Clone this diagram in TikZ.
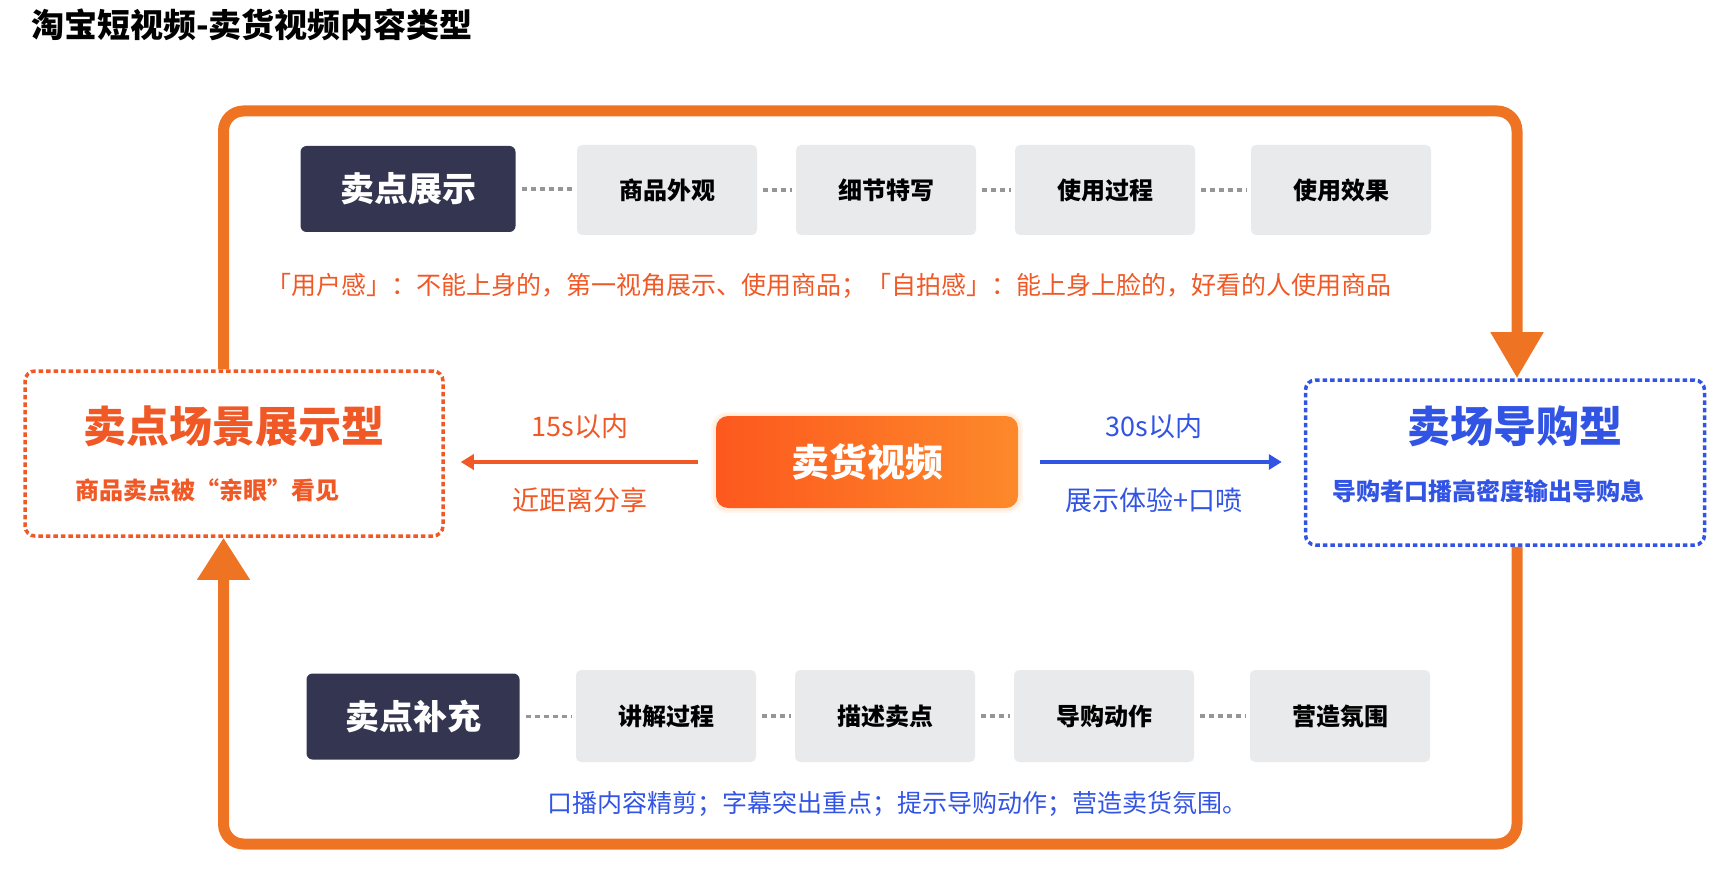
\documentclass[tikz,border=0pt]{standalone}
\usepackage{fontspec}
\setmainfont{Noto Sans CJK SC}
\usetikzlibrary{arrows.meta}
\definecolor{loopOrange}{RGB}{238,116,36}
\definecolor{textOrange}{RGB}{240,88,38}
\definecolor{guideBlue}{RGB}{50,84,228}
\definecolor{navyBox}{RGB}{51,53,81}
\definecolor{greyBox}{RGB}{233,234,236}
\definecolor{dotGrey}{RGB}{150,150,150}
\definecolor{videoLeft}{RGB}{253,88,30}
\definecolor{videoRight}{RGB}{253,137,42}
\def\fs#1{\fontsize{#1}{#1}\selectfont}
\tikzset{
	navybox/.style={fill=navyBox, rounded corners=6pt, text=white, font=\bfseries\fs{34}, minimum height=86pt},
	greybox/.style={fill=greyBox, rounded corners=5pt, font=\bfseries\fs{24}, minimum width=180pt, minimum height=90pt},
	linkdots/.style={draw=dotGrey, line width=3.5pt, dash pattern=on 5pt off 4pt, shorten <=6pt, shorten >=4pt},
	typebox/.style={rounded corners=10pt, line width=3.5pt, dash pattern=on 4.5pt off 3pt},
	plain/.style={inner sep=0pt},
	loopline/.style={draw=loopOrange, line width=11pt, rounded corners=20pt},
}

\begin{document}
\begin{tikzpicture}[x=1pt,y=-1pt]
			%%%%% START %%%%%
			\useasboundingbox (0,0) rectangle (1726,874);
			
			\node[plain, anchor=west, font=\bfseries\fs{33}] (title) at (31,25) {淘宝短视频-卖货视频内容类型};
			
			% two kinds of selling video
			\node[typebox, draw=textOrange, minimum width=418pt, minimum height=165pt] (lead) at (234,453.5) {};
			\node[plain, text=textOrange, font=\bfseries\fs{43}] (leadTitle) at (234,426) {卖点场景展示型};
			\node[plain, text=textOrange, font=\bfseries\fs{24}] (leadNote) at (207,490) {商品卖点被“亲眼”看见};
			
			\node[typebox, draw=guideBlue, minimum width=399pt, minimum height=165pt] (guide) at (1505,462.5) {};
			\node[plain, text=guideBlue, font=\bfseries\fs{43}] (guideTitle) at (1515,426) {卖场导购型};
			\node[plain, text=guideBlue, font=\bfseries\fs{24}] (guideNote) at (1488,491) {导购者口播高密度输出导购息};
			
			% soft glow under the middle box
			\fill[videoRight, opacity=0.08, rounded corners=16pt] (711,412) rectangle (1023,513);
			\fill[videoRight, opacity=0.08, rounded corners=14pt] (713,414) rectangle (1021,511);
			\node[rounded corners=12pt, left color=videoLeft, right color=videoRight, text=white, font=\bfseries\fs{38}, minimum width=302pt, minimum height=92pt] (video) at (867,462) {卖货视频};
			
			% arrows out of the middle
			\draw[draw=textOrange, line width=3.5pt, -{Triangle[width=15pt,length=13pt]}, shorten <=18pt, shorten >=16pt] (video.west) -- (video.west -| lead.east);
			\node[plain, text=textOrange, font=\fs{27}] (shortTop) at (580,426) {15s以内};
			\node[plain, text=textOrange, font=\fs{27}] (shortBottom) at (580,500) {近距离分享};
			
			\draw[draw=guideBlue, line width=3.5pt, -{Triangle[width=15pt,length=13pt]}, shorten <=22pt, shorten >=22pt] (video.east) -- (video.east -| guide.west);
			\node[plain, text=guideBlue, font=\fs{27}] (longTop) at (1154,426) {30s以内};
			\node[plain, text=guideBlue, font=\fs{27}] (longBottom) at (1154,500) {展示体验+口喷};
			
			% top row
			\node[navybox, minimum width=215pt] (showHead) at (408,189) {卖点展示};
			\node[greybox] (showA) at (667,190) {商品外观};
			\node[greybox] (showB) at (886,190) {细节特写};
			\node[greybox] (showC) at (1105,190) {使用过程};
			\node[greybox] (showD) at (1341,190) {使用效果};
			\draw[linkdots] (showHead.east) -- (showHead.east -| showA.west);
			\draw[linkdots] (showA) -- (showB);
			\draw[linkdots] (showB) -- (showC);
			\draw[linkdots] (showC) -- (showD);
			\node[plain, text=textOrange, font=\fs{25}] (showNote) at (829,286) {「用户感」：不能上身的，第一视角展示、使用商品；「自拍感」：能上身上脸的，好看的人使用商品};
			
			% bottom row
			\node[navybox, minimum width=213pt] (addHead) at (413,716.5) {卖点补充};
			\node[greybox, minimum height=92pt] (addA) at (666,716) {讲解过程};
			\node[greybox, minimum height=92pt] (addB) at (885,716) {描述卖点};
			\node[greybox, minimum height=92pt] (addC) at (1104,716) {导购动作};
			\node[greybox, minimum height=92pt] (addD) at (1340,716) {营造氛围};
			\draw[linkdots] (addHead.east) -- (addHead.east -| addA.west);
			\draw[linkdots] (addA) -- (addB);
			\draw[linkdots] (addB) -- (addC);
			\draw[linkdots] (addC) -- (addD);
			\node[plain, text=guideBlue, font=\fs{25}] (addNote) at (897,804) {口播内容精剪；字幕突出重点；提示导购动作；营造卖货氛围。};
			
			% the big loop
			\coordinate (loopTL) at (223.5,111);
			\coordinate (loopTR) at (1517,111);
			\coordinate (loopBR) at (1517,844);
			\coordinate (loopBL) at (223.5,844);
			\draw[loopline, -{Triangle[width=50pt,length=46pt]}] (lead.north -| loopTL) -- (loopTL) -- (loopTR) -- (guide.north -| loopTR);
			\draw[loopline, -{Triangle[width=50pt,length=42pt]}] (guide.south -| loopBR) -- (loopBR) -- (loopBL) -- (lead.south -| loopBL);
			
			%%%%% END %%%%%
\end{tikzpicture}
\end{document}
